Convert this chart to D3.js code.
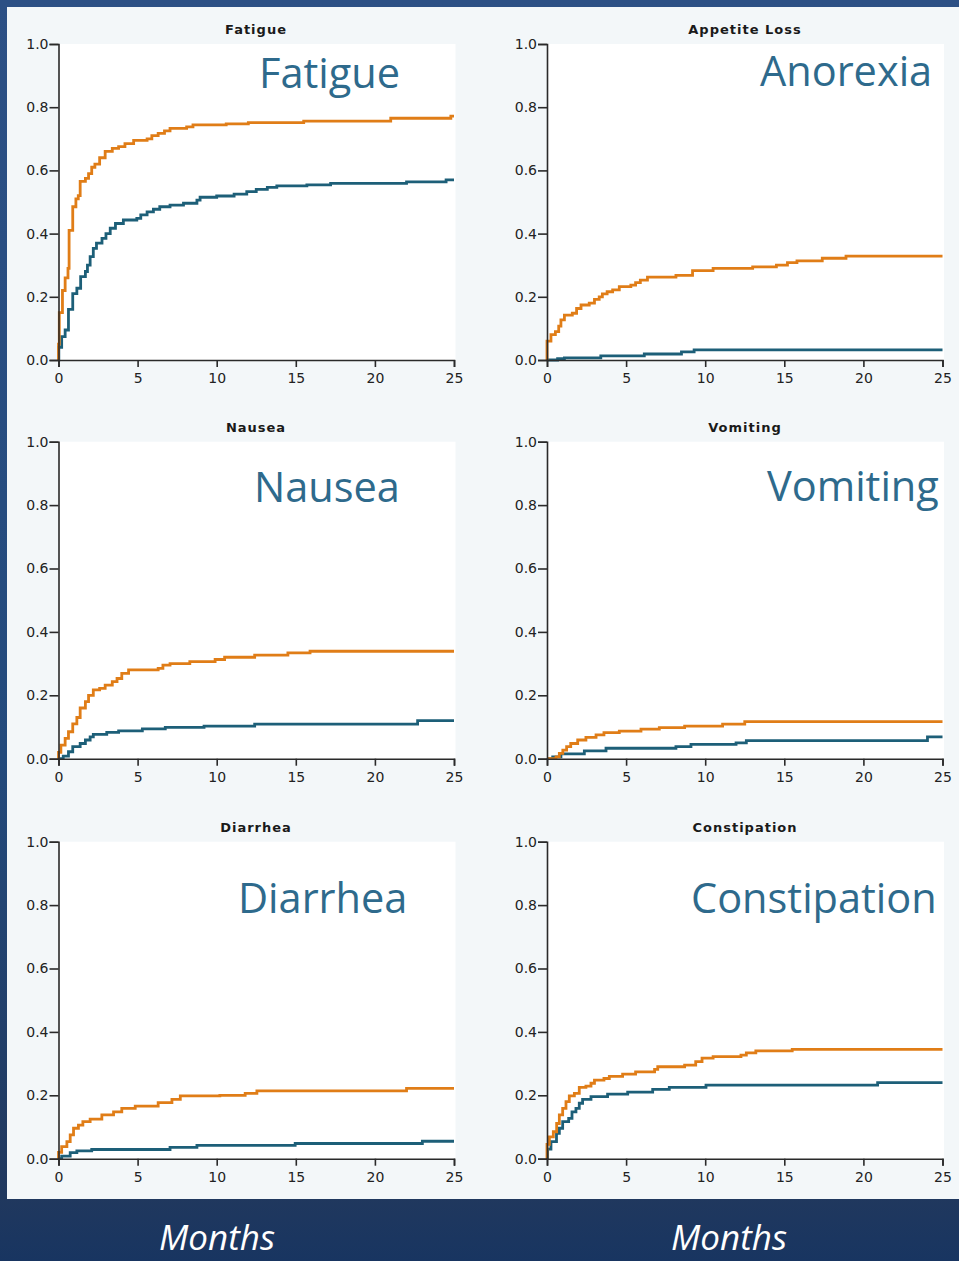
<!DOCTYPE html>
<html>
<head>
<meta charset="utf-8">
<script src="https://cdn.jsdelivr.net/npm/d3@7"></script>
<style>
  body { margin: 0; padding: 0; background: #1d3a66; }
  svg { display: block; }
  .tickText { font-family: "DejaVu Sans", sans-serif; font-size: 14px; fill: #222222; }
  .panelTitle { font-family: "DejaVu Sans", sans-serif; font-weight: bold; font-size: 13px; letter-spacing: 1px; fill: #1a1a1a; }
  .bigLabel { font-family: "Open Sans", sans-serif; font-size: 41.5px; fill: #2e6a8c; }
  .months { font-family: "Open Sans", sans-serif; font-style: italic; font-size: 35px; fill: #ffffff; }
</style>
</head>
<body>
<div id="chart"></div>
<script>
var svgWidth = 959;
var svgHeight = 1261;

// step data: [months, cumulative incidence]
var fatigueOrange = [[0,0],[0,0.05],[0.05,0.15],[0.25,0.22],[0.42,0.26],[0.6,0.29],[0.67,0.41],[0.9,0.485],[1.1,0.51],[1.25,0.52],[1.37,0.565],[1.7,0.575],[1.9,0.59],[2.1,0.61],[2.3,0.62],[2.6,0.64],[2.95,0.66],[3.4,0.67],[3.8,0.675],[4.2,0.685],[4.75,0.695],[5.6,0.70],[5.9,0.71],[6.3,0.717],[6.7,0.725],[7.05,0.733],[8.1,0.738],[8.5,0.744],[10.6,0.747],[12.0,0.751],[15.5,0.756],[21.0,0.765],[24.8,0.772],[25,0.772]];
var fatigueTeal = [[0,0],[0.02,0.04],[0.2,0.074],[0.42,0.095],[0.63,0.16],[0.9,0.21],[1.16,0.227],[1.4,0.264],[1.7,0.28],[1.83,0.30],[2.0,0.327],[2.2,0.353],[2.4,0.37],[2.75,0.385],[3.0,0.40],[3.27,0.417],[3.6,0.432],[4.1,0.443],[4.95,0.448],[5.2,0.459],[5.6,0.469],[6.0,0.477],[6.4,0.485],[7.05,0.49],[7.9,0.496],[8.75,0.506],[8.95,0.515],[10.0,0.519],[11.1,0.525],[11.9,0.533],[12.5,0.54],[13.2,0.546],[13.8,0.551],[15.7,0.554],[17.2,0.559],[22.0,0.564],[24.5,0.57],[25,0.57]];

var appetiteOrange = [[0,0],[0,0.06],[0.25,0.08],[0.53,0.09],[0.74,0.107],[0.88,0.127],[1.1,0.142],[1.6,0.148],[1.87,0.163],[2.15,0.174],[2.67,0.18],[3.0,0.192],[3.3,0.20],[3.5,0.209],[3.8,0.216],[4.15,0.222],[4.57,0.232],[5.3,0.237],[5.6,0.245],[5.9,0.253],[6.35,0.262],[8.15,0.268],[9.2,0.283],[10.5,0.29],[13.0,0.295],[14.5,0.30],[15.2,0.308],[15.8,0.314],[17.4,0.322],[18.9,0.329],[25,0.329]];
var appetiteTeal = [[0,0],[0.67,0.004],[1.1,0.007],[3.4,0.013],[6.15,0.019],[8.5,0.026],[9.3,0.032],[25,0.032]];

var nauseaOrange = [[0,0],[0,0.02],[0.15,0.043],[0.42,0.064],[0.63,0.085],[0.9,0.11],[1.16,0.13],[1.37,0.16],[1.7,0.18],[1.9,0.20],[2.2,0.217],[2.6,0.222],[2.95,0.232],[3.4,0.243],[3.7,0.253],[4.0,0.269],[4.43,0.28],[6.3,0.285],[6.6,0.295],[7.05,0.30],[8.3,0.306],[9.9,0.313],[10.5,0.32],[12.4,0.327],[14.5,0.334],[15.9,0.339],[25,0.339]];
var nauseaTeal = [[0,0],[0.3,0.008],[0.63,0.022],[0.9,0.038],[1.37,0.048],[1.7,0.059],[2.0,0.069],[2.2,0.077],[3.05,0.083],[3.8,0.088],[5.3,0.094],[6.75,0.099],[9.2,0.103],[12.4,0.109],[22.7,0.12],[25,0.12]];

var vomitingOrange = [[0,0],[0.57,0.006],[0.78,0.017],[1.0,0.027],[1.24,0.038],[1.5,0.048],[1.94,0.059],[2.46,0.067],[3.1,0.075],[3.6,0.082],[4.57,0.087],[5.94,0.093],[7.1,0.098],[8.7,0.103],[11.1,0.109],[12.5,0.117],[25,0.117]];
var vomitingTeal = [[0,0],[0.36,0.006],[0.88,0.015],[2.36,0.025],[3.73,0.033],[8.15,0.038],[9.1,0.045],[11.95,0.05],[12.6,0.057],[24.05,0.069],[25,0.069]];

var diarrheaOrange = [[0,0],[0,0.02],[0.2,0.038],[0.53,0.054],[0.74,0.075],[0.95,0.096],[1.26,0.106],[1.54,0.117],[2.0,0.125],[2.74,0.138],[3.48,0.148],[4.0,0.159],[4.85,0.166],[6.3,0.177],[7.17,0.187],[7.7,0.198],[10.2,0.20],[11.8,0.206],[12.54,0.214],[22.0,0.222],[25,0.222]];
var diarrheaTeal = [[0,0],[0.2,0.008],[0.74,0.019],[1.16,0.025],[2.1,0.029],[7.05,0.036],[8.75,0.042],[14.96,0.048],[23.0,0.055],[25,0.055]];

var constipationOrange = [[0,0],[0,0.045],[0.15,0.069],[0.4,0.085],[0.61,0.111],[0.78,0.138],[0.99,0.159],[1.2,0.18],[1.41,0.198],[1.73,0.206],[2.04,0.225],[2.46,0.229],[2.78,0.238],[3.0,0.248],[3.6,0.253],[3.94,0.26],[4.78,0.267],[5.6,0.274],[6.8,0.282],[7.0,0.29],[8.7,0.295],[9.4,0.306],[9.8,0.317],[10.5,0.322],[12.26,0.327],[12.6,0.334],[13.2,0.34],[15.5,0.345],[25,0.345]];
var constipationTeal = [[0,0],[0.04,0.03],[0.25,0.054],[0.6,0.08],[0.78,0.096],[0.99,0.117],[1.37,0.127],[1.58,0.148],[1.83,0.159],[2.04,0.175],[2.25,0.187],[2.78,0.196],[3.83,0.204],[5.1,0.21],[6.68,0.219],[7.73,0.225],[10.05,0.232],[20.9,0.24],[25,0.24]];

var panelTitles = ["Fatigue", "Appetite Loss", "Nausea", "Vomiting", "Diarrhea", "Constipation"];
var bigLabels = ["Fatigue", "Anorexia", "Nausea", "Vomiting", "Diarrhea", "Constipation"];
var orangeSeries = [fatigueOrange, appetiteOrange, nauseaOrange, vomitingOrange, diarrheaOrange, constipationOrange];
var tealSeries = [fatigueTeal, appetiteTeal, nauseaTeal, vomitingTeal, diarrheaTeal, constipationTeal];
var xTicks = [0, 5, 10, 15, 20, 25];
var yTicks = [0, 0.2, 0.4, 0.6, 0.8, 1.0];
var axisLabel = "Months";

// layout of the 3x2 grid
var colLeft = [58.5, 547];
var colRight = [454, 942.5];
var rowTop = [44, 441.7, 841.7];
var rowBottom = [360, 758.7, 1158.7];
var titleY = [29, 427, 827];
var titleX = [256, 745];
var bigX = [259, 760, 254, 767, 238, 691];
var bigY = [88, 86, 502, 501, 913, 913];

var orangeColor = "#e07d17";
var tealColor = "#1d5f78";

var svg = d3.select("#chart")
  .append("svg")
  .attr("width", svgWidth)
  .attr("height", svgHeight);

var defs = svg.append("defs");
var grad = defs.append("linearGradient")
  .attr("id", "bgGrad")
  .attr("x1", 0).attr("y1", 0).attr("x2", 0).attr("y2", 1);
grad.append("stop").attr("offset", "0%").attr("stop-color", "#2c5085");
grad.append("stop").attr("offset", "60%").attr("stop-color", "#234a7c");
grad.append("stop").attr("offset", "95%").attr("stop-color", "#20385e");
grad.append("stop").attr("offset", "100%").attr("stop-color", "#183561");

svg.append("rect")
  .attr("width", svgWidth)
  .attr("height", svgHeight)
  .attr("fill", "url(#bgGrad)");

// light slide panel
svg.append("rect")
  .attr("x", 7)
  .attr("y", 7)
  .attr("width", svgWidth - 7)
  .attr("height", 1199 - 7)
  .attr("fill", "#f3f7f9");

panelTitles.forEach(function (title, i) {
  var col = i % 2;
  var row = Math.floor(i / 2);

  var xScale = d3.scaleLinear()
    .domain([0, 25])
    .range([colLeft[col], colRight[col]]);
  var yScale = d3.scaleLinear()
    .domain([0, 1])
    .range([rowBottom[row], rowTop[row]]);

  var g = svg.append("g");

  // white plotting area
  g.append("rect")
    .attr("x", xScale(0))
    .attr("y", yScale(1))
    .attr("width", xScale(25) - xScale(0) + 1.5)
    .attr("height", yScale(0) - yScale(1))
    .attr("fill", "#ffffff");

  var lineGen = d3.line()
    .x(d => xScale(d[0]))
    .y(d => yScale(d[1]))
    .curve(d3.curveStepAfter);

  g.append("path")
    .attr("d", lineGen(tealSeries[i]))
    .attr("fill", "none")
    .attr("stroke", tealColor)
    .attr("stroke-width", 2.8);

  g.append("path")
    .attr("d", lineGen(orangeSeries[i]))
    .attr("fill", "none")
    .attr("stroke", orangeColor)
    .attr("stroke-width", 2.8);

  var leftAxis = d3.axisLeft(yScale)
    .tickValues(yTicks)
    .tickFormat(d3.format(".1f"))
    .tickSize(9)
    .tickPadding(1);
  var bottomAxis = d3.axisBottom(xScale)
    .tickValues(xTicks)
    .tickSize(7)
    .tickPadding(6);

  var ya = g.append("g")
    .attr("transform", `translate(${xScale(0)}, 0)`)
    .call(leftAxis);
  var xa = g.append("g")
    .attr("transform", `translate(0, ${yScale(0)})`)
    .call(bottomAxis);

  [ya, xa].forEach(function (a) {
    a.select(".domain").attr("stroke", "#2a2a2a").attr("stroke-width", 1.6);
    a.selectAll(".tick line").attr("stroke", "#2a2a2a").attr("stroke-width", 1.6);
    a.selectAll(".tick text").attr("class", "tickText").attr("fill", null);
  });

  g.append("text")
    .attr("class", "panelTitle")
    .attr("x", titleX[col])
    .attr("y", titleY[row])
    .attr("text-anchor", "middle")
    .attr("dy", "0.35em")
    .text(title);

  g.append("text")
    .attr("class", "bigLabel")
    .attr("x", bigX[i])
    .attr("y", bigY[i])
    .text(bigLabels[i]);
});

// x axis labels below the slide panel
[217, 729].forEach(function (cx) {
  svg.append("text")
    .attr("class", "months")
    .attr("x", cx)
    .attr("y", 1250)
    .attr("text-anchor", "middle")
    .text(axisLabel);
});
</script>
</body>
</html>
